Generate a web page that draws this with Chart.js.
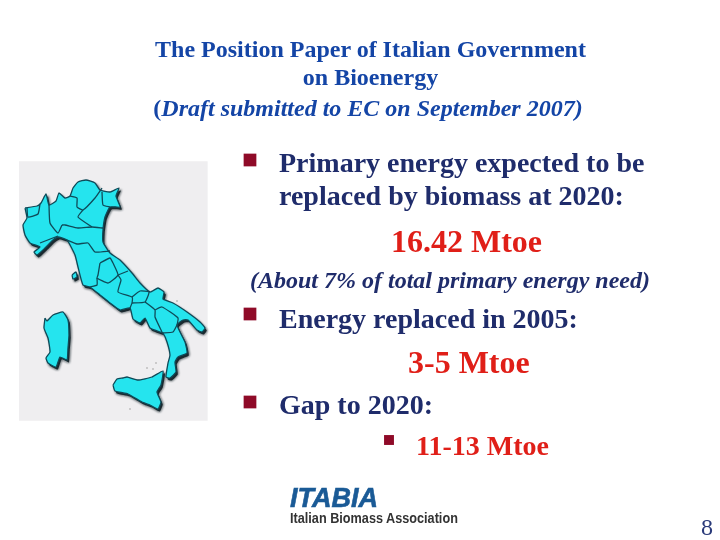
<!DOCTYPE html>
<html>
<head>
<meta charset="utf-8">
<script src="https://cdn.jsdelivr.net/npm/chart.js@4"></script>
<style>
html, body { margin: 0; padding: 0; background: #fff; }
#slide { position: relative; width: 720px; height: 540px; overflow: hidden; font-family: "Liberation Serif", serif; font-weight: bold; }
canvas { position: absolute; left: 0; top: 0; }
.t { position: absolute; white-space: nowrap; line-height: 1; }
.head { left: 0; width: 741px; text-align: center; color: #1445a6; font-size: 24px; }
.body { left: 279px; color: #1f2c6b; font-size: 28px; }
.red { color: #e01f18; }
</style>
</head>
<body>
<div id="slide">
  <canvas id="chart" width="720" height="540"></canvas>
  <div class="t head" style="top:37px">The Position Paper of Italian Government</div>
  <div class="t head" style="top:65px">on Bioenergy</div>
  <div class="t head" style="top:96px;width:736px">(<i>Draft submitted to EC on September 2007)</i></div>
  <div class="t body" style="top:149px">Primary energy expected to be</div>
  <div class="t body" style="top:182px">replaced by biomass at 2020:</div>
  <div class="t red" style="left:391px;top:225px;font-size:32px">16.42 Mtoe</div>
  <div class="t" style="left:250px;top:268px;font-size:24px;color:#1f2c6b"><i>(About 7% of total primary energy need)</i></div>
  <div class="t body" style="top:305px">Energy replaced in 2005:</div>
  <div class="t red" style="left:408px;top:346px;font-size:32px">3-5 Mtoe</div>
  <div class="t body" style="top:391px">Gap to 2020:</div>
  <div class="t red" style="left:416px;top:432px;font-size:28px">11-13 Mtoe</div>
  <div class="t" style="left:290px;top:485px;font-family:'Liberation Sans',sans-serif;font-style:italic;font-size:27px;color:#1a5a96;-webkit-text-stroke:0.6px #1a5a96">ITABIA</div>
  <div class="t" style="left:290px;top:510px;font-family:'Liberation Sans',sans-serif;font-size:15px;color:#333;transform:scaleX(0.845);transform-origin:left">Italian Biomass Association</div>
  <div class="t" style="left:701px;top:515px;font-weight:normal;font-size:24px;color:#2a3a7a">8</div>
</div>
<script>
// map outlines
const panel = [[19,162],[207,162],[207,420],[19,420]];
const mainland = [[25,208],[37,206],[41,203],[46,194],[49,205],[56,201],[59,193],[65,198],[70,196],[73,188],[78,182],[86,180],[95,183],[100,190],[110,192],[119,188],[116,196],[120,207],[110,207],[105,217],[103,230],[103,242],[110,253],[120,260],[132,273],[140,283],[150,292],[158,288],[164,292],[163,299],[173,303],[187,312],[200,322],[205,328],[202,332],[197,330],[188,320],[183,320],[177,325],[185,342],[187,353],[178,357],[175,362],[176,372],[170,378],[166,377],[168,363],[170,355],[167,342],[163,333],[160,332],[150,328],[145,318],[140,323],[133,319],[130,308],[120,310],[110,303],[100,295],[90,287],[83,285],[78,267],[75,255],[67,240],[58,237],[53,240],[45,248],[37,255],[34,252],[40,247],[30,243],[25,235],[23,225],[27,218],[25,208]];
const sardinia = [[45,318],[47,321],[53,315],[63,312],[68,320],[69,335],[68,348],[67,360],[60,357],[56,367],[48,363],[46,358],[50,352],[48,338],[44,328],[45,318]];
const sicily = [[113,385],[117,379],[123,378],[127,377],[138,380],[152,377],[163,371],[161,385],[157,392],[161,402],[158,409],[150,405],[142,402],[128,394],[115,391],[113,385]];
const elba = [[72,275],[76,272],[77,277],[73,279],[72,275]];
const borders = [
  [[27,208],[28,217],[38,214],[40,204]],
  [[49,205],[50,223],[58,233],[62,225]],
  [[40,243],[58,236]],
  [[62,225],[65,225],[78,228],[92,227],[103,228]],
  [[67,240],[77,244],[88,243],[95,252],[110,251]],
  [[70,196],[77,198],[77,207],[83,210],[95,198],[102,188]],
  [[83,210],[78,217],[92,227]],
  [[102,192],[103,205],[110,207]],
  [[100,263],[110,258],[113,263]],
  [[100,263],[98,275],[97,278],[108,283],[118,275],[113,263]],
  [[97,278],[97,285],[90,287]],
  [[118,275],[128,271]],
  [[118,275],[121,280],[118,292],[132,297],[132,303],[130,308]],
  [[132,303],[145,302],[149,292],[140,291],[132,297]],
  [[145,302],[155,310],[155,317],[162,332]],
  [[155,310],[162,307],[178,318],[177,325]],
  [[162,333],[173,332],[177,325]]
];
const specks = [[147,368],[156,363],[153,369],[130,409],[177,301]];
const islands = [mainland, sardinia, sicily, elba];

// slide bullets
const bullets = [[250,160],[250,314],[250,402]];
const subBullets = [[389,440]];

const toPoints = list => list.map(p => ({ x: p[0], y: p[1] }));
const shifted = list => list.map(p => ({ x: p[0] + 1.8, y: p[1] + 2.4 }));

const shape = (data, color, line, order) => ({
  data, order, showLine: true, tension: 0.15, pointRadius: 0, fill: 'shape',
  backgroundColor: color, borderColor: line, borderWidth: 1.3
});

const datasets = [
  { ...shape(toPoints(panel), '#efeef0', '#efeef0', 10), tension: 0 },
  ...islands.map(i => ({ ...shape(shifted(i), '#1c2a30', '#1c2a30', 9), isShadow: true })),
  ...islands.map(i => shape(toPoints(i), '#25e4ee', '#0f4a58', 5)),
  ...borders.map(b => ({ ...shape(toPoints(b), 'transparent', '#0f4a58', 4), fill: false })),
  { data: toPoints(specks), pointRadius: 0.7, backgroundColor: '#8a8a8a', borderWidth: 0, order: 3 },
  { data: toPoints(bullets), pointStyle: 'rect', pointRadius: 9, backgroundColor: '#8f0a28', borderWidth: 0, order: 1 },
  { data: toPoints(subBullets), pointStyle: 'rect', pointRadius: 7, backgroundColor: '#8f0a28', borderWidth: 0, order: 1 }
];

// soft edge under the map
const softShadow = {
  id: 'softShadow',
  beforeDatasetDraw(chart, args) {
    if (args.meta._dataset.isShadow) {
      chart.ctx.save();
      chart.ctx.filter = 'blur(1px)';
    }
  },
  afterDatasetDraw(chart, args) {
    if (args.meta._dataset.isShadow) chart.ctx.restore();
  }
};

new Chart(document.getElementById('chart'), {
  type: 'scatter',
  data: { datasets },
  plugins: [softShadow],
  options: {
    responsive: false,
    animation: false,
    devicePixelRatio: 1,
    layout: { padding: 0, autoPadding: false },
    plugins: { legend: { display: false }, tooltip: { enabled: false } },
    scales: {
      x: { type: 'linear', display: false, min: 0, max: 720 },
      y: { type: 'linear', display: false, min: 0, max: 540, reverse: true }
    }
  }
});
</script>
</body>
</html>
